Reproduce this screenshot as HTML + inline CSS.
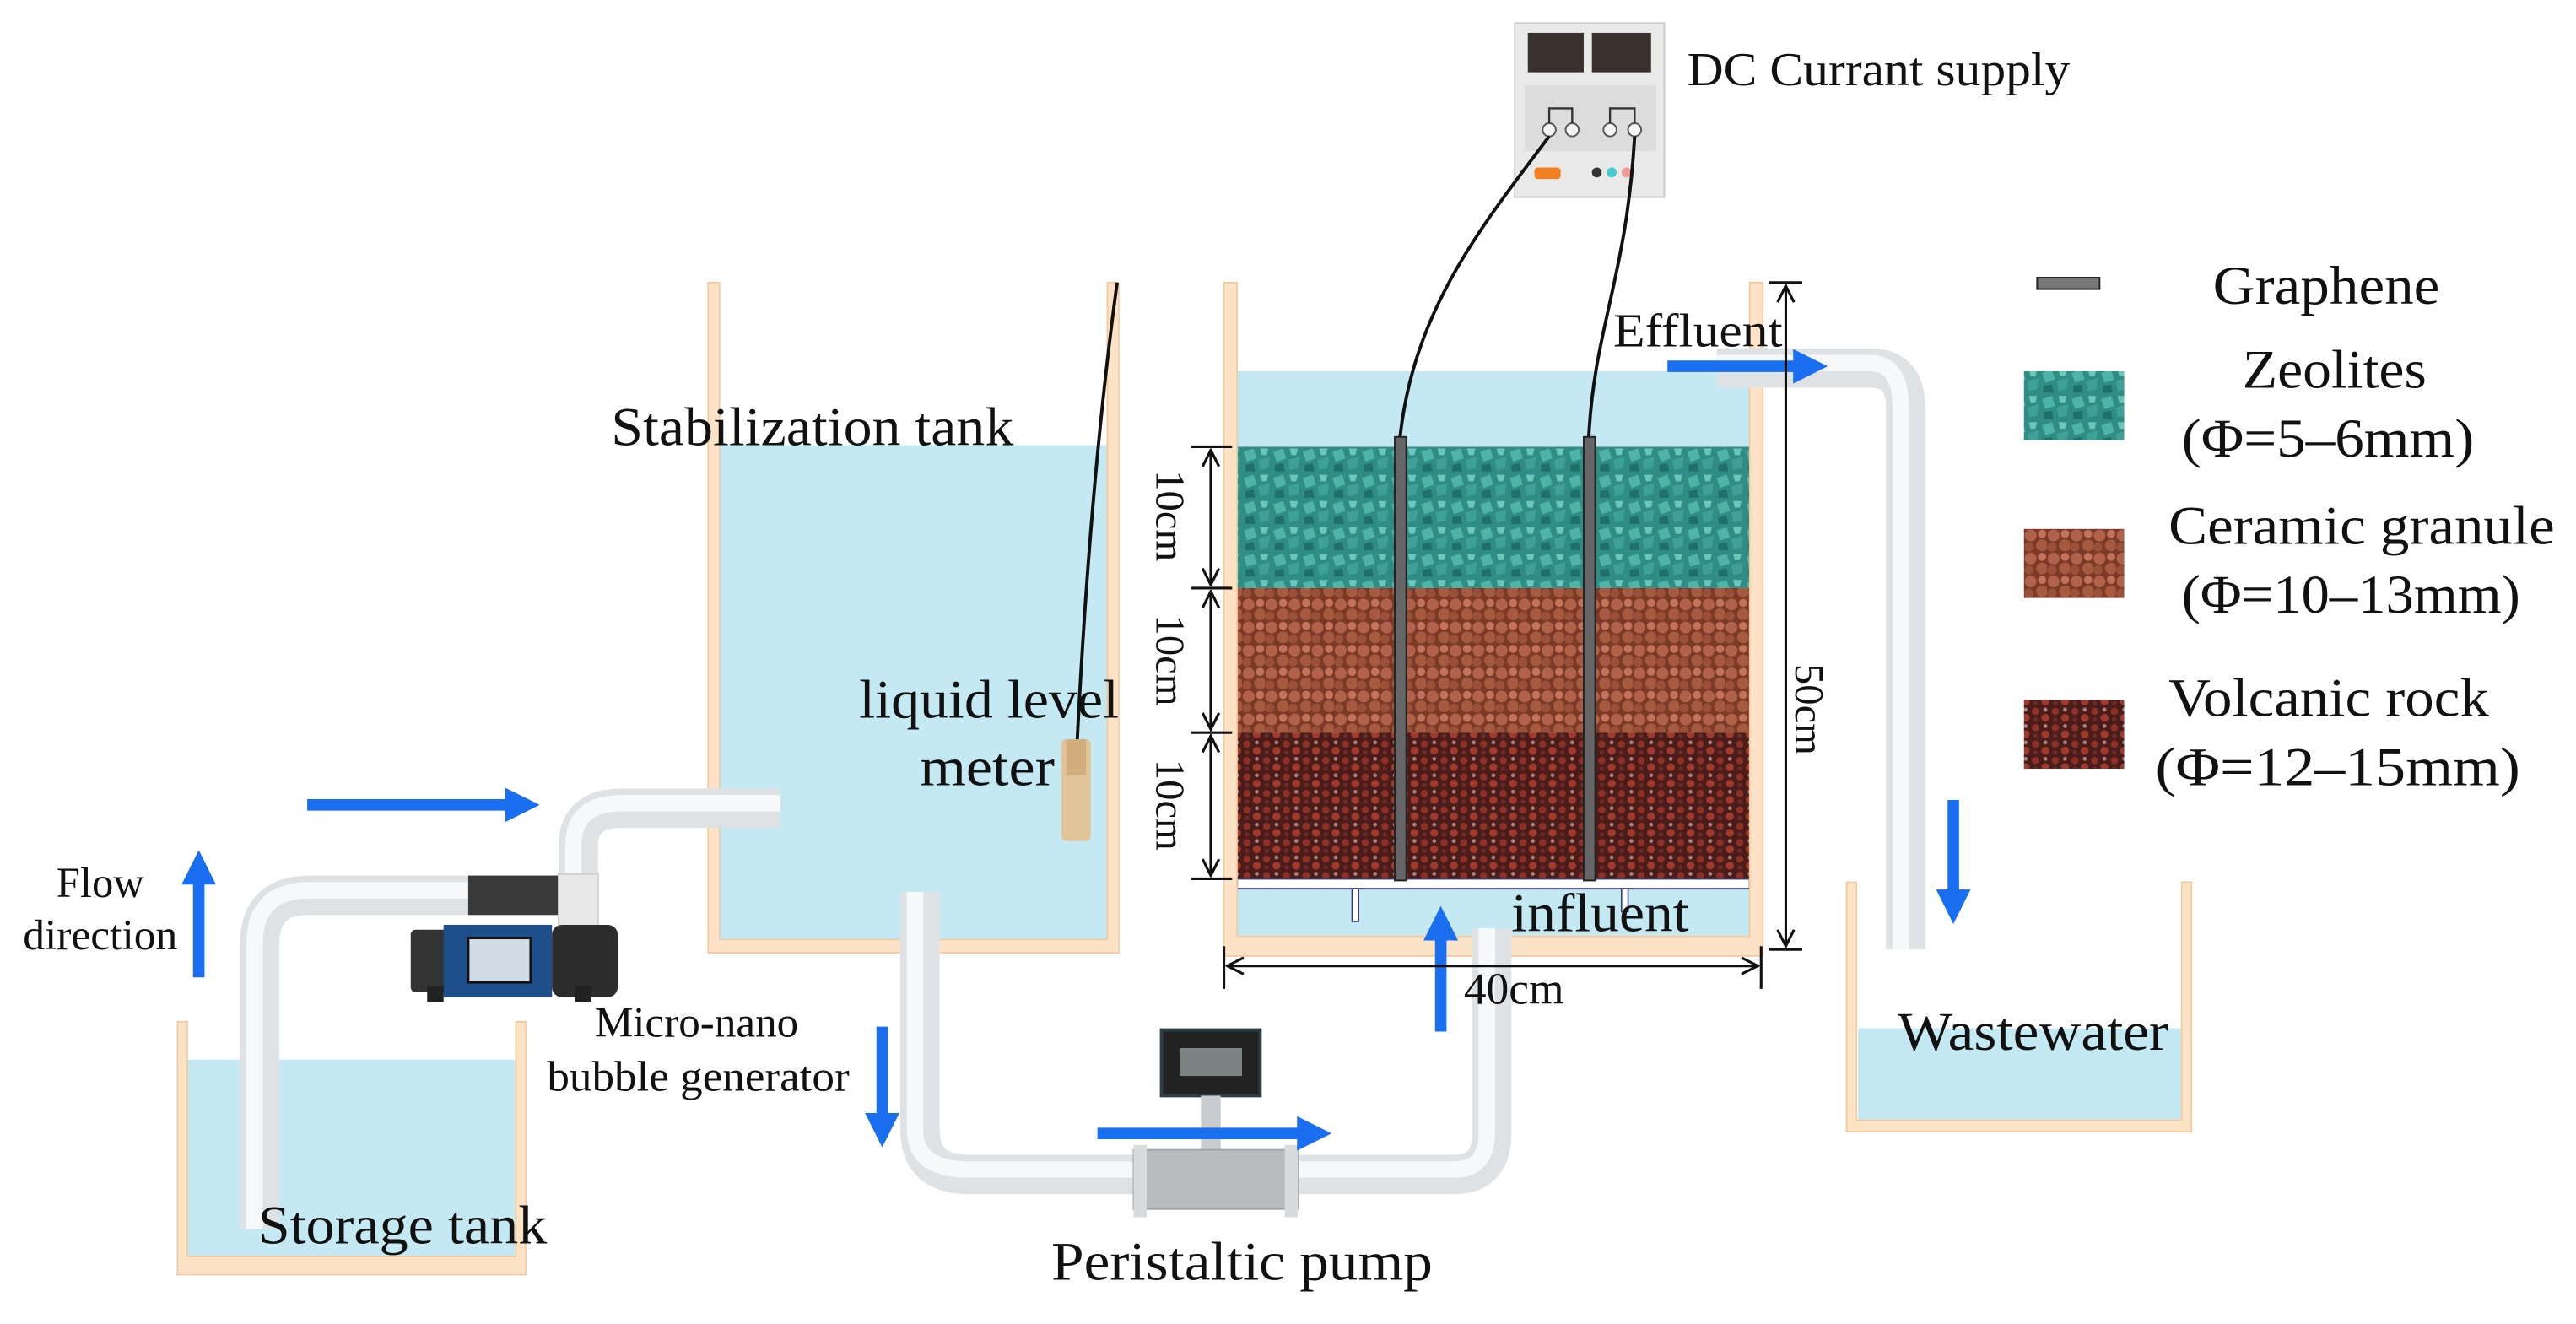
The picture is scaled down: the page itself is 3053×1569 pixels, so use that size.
<!DOCTYPE html>
<html><head><meta charset="utf-8"><style>
html,body{margin:0;padding:0;background:#fff;}
svg{display:block;}
text{font-family:"Liberation Serif",serif;fill:#111;}
</style></head><body>
<svg width="3053" height="1569" viewBox="0 0 1568 806" preserveAspectRatio="none" xmlns="http://www.w3.org/2000/svg">
<defs>
<pattern id="zeo" width="18" height="16" patternUnits="userSpaceOnUse">
<rect width="18" height="16" fill="#2f8d86"/>
<path d="M1 3 L7 1 L9 7 L3 9Z" fill="#4fb3a8"/><path d="M10 8 L17 6 L16 13 L11 14Z" fill="#3ea096"/>
<path d="M2 11 L7 10 L8 15 L2 15Z" fill="#1f6f6a"/><path d="M11 1 L16 1 L15 5 L12 5Z" fill="#6cc7bb"/>
</pattern>
<pattern id="cer" width="14" height="14" patternUnits="userSpaceOnUse">
<rect width="14" height="14" fill="#7a3a26"/>
<circle cx="4" cy="4" r="3.6" fill="#b0624a"/><circle cx="11" cy="10" r="3.6" fill="#a65a40"/>
<circle cx="11" cy="3" r="2.5" fill="#c27359"/><circle cx="3" cy="11" r="2.8" fill="#9b5039"/>
</pattern>
<pattern id="vol" width="12" height="10" patternUnits="userSpaceOnUse">
<rect width="12" height="10" fill="#4a1d1a"/>
<circle cx="3" cy="3" r="2.2" fill="#8e3026"/><circle cx="9" cy="7" r="2.4" fill="#a13a2c"/>
<circle cx="9" cy="2" r="1.2" fill="#b0827a"/><circle cx="3" cy="8" r="1.4" fill="#6e2a24"/>
</pattern>
<marker id="ah" viewBox="0 0 10 10" refX="5" refY="5" markerWidth="3" markerHeight="3" orient="auto"><path d="M0 0 L10 5 L0 10Z" fill="#1a6ff0"/></marker>
<marker id="dk" viewBox="0 0 12 12" refX="11" refY="6" markerWidth="12" markerHeight="12" markerUnits="userSpaceOnUse" orient="auto-start-reverse"><path d="M1 1 L11 6 L1 11" fill="none" stroke="#111" stroke-width="1.6"/></marker>
</defs>

<rect x="113" y="645" width="202" height="124" fill="#c4e9f3"/>
<rect x="438" y="271" width="236" height="301" fill="#c4e9f3"/>
<rect x="752" y="226" width="314" height="346" fill="#c4e9f3"/>
<rect x="1131" y="626" width="197" height="56" fill="#c4e9f3"/>

<rect x="753" y="272" width="312" height="86" fill="url(#zeo)"/>
<rect x="753" y="358" width="312" height="88" fill="url(#cer)"/>
<rect x="753" y="446" width="312" height="89" fill="url(#vol)"/>
<rect x="753" y="535" width="312" height="6" fill="#fff" stroke="#3a3a6a" stroke-width="1"/>
<rect x="823" y="541" width="4" height="20" fill="#fff" stroke="#3a3a6a" stroke-width="0.8"/>
<rect x="987" y="541" width="4" height="14" fill="#fff" stroke="#3a3a6a" stroke-width="0.8"/>

<g fill="#fde3c6" stroke="#f5c698" stroke-width="0.8">
<path d="M108 622 h6 v143 h200 v-143 h6 v154 h-212Z"/>
<path d="M431 172 h7 v400 h236 v-400 h7 v408 h-250Z"/>
<path d="M745 172 h8 v398 h312 v-398 h8 v410 h-328Z"/>
<path d="M1124 537 h6 v145 h198 v-145 h6 v152 h-210Z"/>
</g>

<g fill="none" stroke-linejoin="round">
<g stroke="#dfe2e5" stroke-width="24">
<path d="M158 748 V575 Q158 545 188 545 H292"/>
<path d="M352 545 V515 Q352 492 378 492 H475"/>
<path d="M560 543 V688 Q560 715 590 715 H885 Q908 715 908 690 V565"/>
<path d="M1045 224 H1138 Q1160 224 1160 248 V578"/>
</g>
<g stroke="#f7f8f9" stroke-width="10">
<path d="M155 748 V575 Q155 542 188 542 H292"/>
<path d="M349 545 V515 Q349 489 378 489 H475"/>
<path d="M557 543 V688 Q557 712 590 712 H885 Q905 712 905 690 V565"/>
<path d="M1045 221 H1138 Q1157 221 1157 248 V578"/>
</g>
</g>

<rect x="285" y="533" width="58" height="24" fill="#3a3a3a"/>
<rect x="340" y="532" width="24" height="34" fill="#e8e8e8" stroke="#ccc"/>
<rect x="250" y="566" width="24" height="38" rx="3" fill="#333"/>
<rect x="270" y="563" width="66" height="44" fill="#1e4f8a"/>
<rect x="285" y="571" width="38" height="27" fill="#d0dbe6" stroke="#111" stroke-width="1.5"/>
<rect x="336" y="563" width="40" height="44" rx="6" fill="#2c2c2c"/>
<rect x="260" y="600" width="10" height="10" fill="#222"/><rect x="350" y="600" width="10" height="10" fill="#222"/>

<rect x="707" y="627" width="60" height="40" fill="#222" stroke="#2c3e44" stroke-width="2"/>
<rect x="718" y="638" width="38" height="17" fill="#7a8282"/>
<rect x="731" y="667" width="12" height="35" fill="#c8cccf"/>
<rect x="690" y="700" width="100" height="36" fill="#b8bcbf" stroke="#a0a4a8"/>
<rect x="690" y="697" width="8" height="44" fill="#d8dbde"/><rect x="782" y="697" width="8" height="44" fill="#d8dbde"/>

<rect x="922" y="14" width="91" height="106" fill="#e9e9e9" stroke="#ccc"/>
<rect x="930" y="20" width="34" height="24" fill="#3a302e"/><rect x="969" y="20" width="36" height="24" fill="#3a302e"/>
<rect x="928" y="52" width="80" height="40" fill="#dcdcdc"/>
<g fill="#f4f4f4" stroke="#555" stroke-width="1"><circle cx="943" cy="79" r="4"/><circle cx="957" cy="79" r="4"/><circle cx="980" cy="79" r="4"/><circle cx="995" cy="79" r="4"/></g>
<path d="M943 75 V66 H957 V75 M980 75 V66 H995 V75" fill="none" stroke="#333" stroke-width="1.2"/>
<rect x="934" y="102" width="16" height="7" rx="2" fill="#f08020"/>
<circle cx="972" cy="105" r="3" fill="#333"/><circle cx="981" cy="105" r="3" fill="#4cc"/><circle cx="990" cy="105" r="3" fill="#e99"/>

<g fill="none" stroke="#111" stroke-width="2">
<path d="M943 83 C900 140 860 190 852 268"/>
<path d="M995 83 C990 170 970 200 967 268"/>
<path d="M680 172 C668 260 660 360 655 465"/>
</g>
<rect x="646" y="450" width="18" height="62" rx="3" fill="#e2c49a"/>
<rect x="649" y="450" width="12" height="22" fill="#d2ae7e"/>

<rect x="849" y="266" width="7" height="270" fill="#666" stroke="#222"/>
<rect x="964" y="266" width="7" height="270" fill="#666" stroke="#222"/>

<g stroke="#1a6ff0" stroke-width="7" marker-end="url(#ah)">
<line x1="187" y1="490" x2="318" y2="490"/>
<line x1="121" y1="595" x2="121" y2="528"/>
<line x1="537" y1="625" x2="537" y2="688"/>
<line x1="668" y1="690" x2="800" y2="690"/>
<line x1="877" y1="628" x2="877" y2="562"/>
<line x1="1015" y1="223" x2="1102" y2="223"/>
<line x1="1189" y1="487" x2="1189" y2="552"/>
</g>

<g stroke="#111" stroke-width="1.6" fill="none">
<line x1="737" y1="274" x2="737" y2="356" marker-start="url(#dk)" marker-end="url(#dk)"/>
<line x1="737" y1="360" x2="737" y2="444" marker-start="url(#dk)" marker-end="url(#dk)"/>
<line x1="737" y1="448" x2="737" y2="533" marker-start="url(#dk)" marker-end="url(#dk)"/>
<path d="M725 272 H750 M725 358 H750 M725 446 H750 M725 535 H750"/>
<line x1="1087" y1="174" x2="1087" y2="576" marker-start="url(#dk)" marker-end="url(#dk)"/>
<path d="M1077 172 H1097 M1077 578 H1097"/>
<line x1="747" y1="588" x2="1070" y2="588" marker-start="url(#dk)" marker-end="url(#dk)"/>
<path d="M745 576 V602 M1072 576 V602"/>
</g>
<g font-size="25">
<text transform="translate(704,314) rotate(90)" text-anchor="middle">10cm</text>
<text transform="translate(704,402) rotate(90)" text-anchor="middle">10cm</text>
<text transform="translate(704,490) rotate(90)" text-anchor="middle">10cm</text>
<text transform="translate(1093,432) rotate(90)" text-anchor="middle">50cm</text>
</g>

<rect x="1240" y="169" width="38" height="7" fill="#777" stroke="#222"/>
<rect x="1232" y="226" width="61" height="42" fill="url(#zeo)"/>
<rect x="1232" y="322" width="61" height="42" fill="url(#cer)"/>
<rect x="1232" y="426" width="61" height="42" fill="url(#vol)"/>

<g font-size="33" lengthAdjust="spacingAndGlyphs">
<text x="372" y="271" textLength="245" lengthAdjust="spacingAndGlyphs">Stabilization tank</text>
<text x="523" y="437" textLength="158" lengthAdjust="spacingAndGlyphs">liquid level</text>
<text x="560" y="478" textLength="82" lengthAdjust="spacingAndGlyphs">meter</text>
<text x="157" y="757" textLength="176" lengthAdjust="spacingAndGlyphs">Storage tank</text>
<text x="640" y="779" textLength="232" lengthAdjust="spacingAndGlyphs">Peristaltic pump</text>
<text x="1155" y="639" textLength="165" lengthAdjust="spacingAndGlyphs">Wastewater</text>
<text x="920" y="567" textLength="108" lengthAdjust="spacingAndGlyphs">influent</text>
<text x="1347" y="185" textLength="138" lengthAdjust="spacingAndGlyphs">Graphene</text>
<text x="1365" y="236" textLength="112" lengthAdjust="spacingAndGlyphs">Zeolites</text>
<text x="1328" y="278" textLength="178" lengthAdjust="spacingAndGlyphs">(Φ=5–6mm)</text>
<text x="1320" y="331" textLength="235" lengthAdjust="spacingAndGlyphs">Ceramic granule</text>
<text x="1328" y="373" textLength="206" lengthAdjust="spacingAndGlyphs">(Φ=10–13mm)</text>
<text x="1320" y="436" textLength="195" lengthAdjust="spacingAndGlyphs">Volcanic rock</text>
<text x="1312" y="478" textLength="222" lengthAdjust="spacingAndGlyphs">(Φ=12–15mm)</text>
</g>
<g font-size="29">
<text x="982" y="211" textLength="103" lengthAdjust="spacingAndGlyphs">Effluent</text>
<text x="1027" y="52" textLength="233" lengthAdjust="spacingAndGlyphs">DC Currant supply</text>
<text x="891" y="611" textLength="61" font-size="27" lengthAdjust="spacingAndGlyphs">40cm</text>
</g>
<g font-size="26">
<text x="61" y="546" text-anchor="middle">Flow</text>
<text x="61" y="578" text-anchor="middle" textLength="94" lengthAdjust="spacingAndGlyphs">direction</text>
<text x="424" y="631" text-anchor="middle" textLength="124" lengthAdjust="spacingAndGlyphs">Micro-nano</text>
<text x="425" y="664" text-anchor="middle" textLength="184" lengthAdjust="spacingAndGlyphs">bubble generator</text>
</g>
</svg>
</body></html>
